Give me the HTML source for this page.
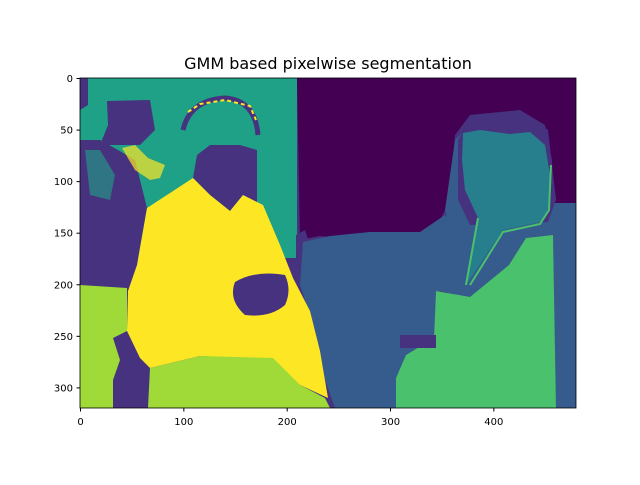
<!DOCTYPE html>
<html><head><meta charset="utf-8"><style>
body{margin:0;background:#fff}
svg text{font-family:"DejaVu Sans","Liberation Sans",sans-serif;fill:#000}
</style></head><body>
<svg width="640" height="480">
<text x="328" y="69" text-anchor="middle" font-size="16">GMM based pixelwise segmentation</text>
<defs><clipPath id="c"><rect x="80" y="78" width="496" height="330"/></clipPath></defs>
<g clip-path="url(#c)">
<rect x="80" y="78" width="496" height="330" fill="#46327e"/>
<rect x="80" y="78" width="217" height="180" fill="#1fa187"/>
<polygon points="80,78 88,78 88,105 80,110" fill="#46327e"/>
<polygon points="80,140 100,140 118,150 135,160 147,208 137,265 128,291 80,288" fill="#46327e"/>
<polygon points="85,150 100,150 115,175 110,200 90,195" fill="#1fa187" opacity="0.6"/>
<polygon points="107,101 150,100 155,130 140,145 115,145 100,145 108,125" fill="#46327e"/>
<polygon points="297,78 576,78 576,203 553,203 552,160 545,125 520,110 470,115 455,135 450,200 440,220 430,236 400,232 370,236 340,238 320,236 300,240" fill="#440154"/>
<polygon points="296,235 305,230 310,245 300,260 296,258" fill="#46327e"/>
<polygon points="303,242 330,236 370,232 420,232 445,215 455,225 470,285 470,300 445,292 436,291 434,338 406,355 396,378 396,408 335,408 325,380 315,330 300,285" fill="#365c8d"/>
<polygon points="455,140 470,125 520,115 548,135 556,200 553,203 576,203 576,408 556,408 553,235 526,238 509,265 470,297 445,292 450,230 445,210" fill="#365c8d"/>
<polygon points="458,140 470,120 520,112 548,130 556,200 548,222 470,225 458,200" fill="#46327e"/>
<polygon points="463,133 480,130 510,134 530,132 545,145 550,175 549,205 545,218 540,222 503,230 466,285 478,218 465,190 462,160" fill="#277f8e"/>
<polyline points="466,285 478,218" fill="none" stroke="#4ac16d" stroke-width="2"/>
<polyline points="470,285 503,232 540,224 549,210 551,165" fill="none" stroke="#4ac16d" stroke-width="2"/>
<path d="M183,130 Q190,100 225,98 Q255,100 258,135" fill="none" stroke="#46327e" stroke-width="5"/>
<polyline points="188,112 200,104 225,100 250,106 256,120" fill="none" stroke="#fde725" stroke-width="2" stroke-dasharray="4 3"/>
<polygon points="197,155 210,145 240,145 257,150 257,205 243,195 230,211 210,195 193,178" fill="#46327e"/>
<polygon points="122,148 135,145 148,158 165,165 160,178 150,180 135,170" fill="#fde725" opacity="0.7"/>
<polygon points="147,208 193,178 210,195 230,211 243,195 263,205 280,245 293,278 310,311 320,351 328,398 300,385 273,360 200,356 150,368 140,358 127,331 128,291 137,265" fill="#fde725"/>
<path d="M235,282 Q255,270 285,275 Q292,290 285,305 Q270,318 245,315 Q228,300 235,282Z" fill="#46327e"/>
<polygon points="80,285 127,288 127,331 113,338 120,360 113,380 113,408 80,408" fill="#a0da39"/>
<polygon points="150,368 200,356 273,358 300,385 325,398 330,408 148,408" fill="#a0da39"/>
<polygon points="436,291 470,297 509,265 526,238 553,235 556,408 396,408 396,378 406,355 434,338" fill="#4ac16d"/>
<rect x="400" y="335" width="36" height="13" fill="#46327e"/>
</g>
<rect x="80" y="78" width="496" height="330" fill="none" stroke="#000" stroke-width="0.8"/>
<g id="ticks"></g>
</svg>
<script>
const xTicks=[0,100,200,300,400];
const yTicks=[0,50,100,150,200,250,300];
const W=480,H=320;
const sx=v=>80+(v+0.5)*496/W, sy=v=>78+(v+0.5)*330/H;
const g=document.getElementById('ticks'),ns='http://www.w3.org/2000/svg';
xTicks.forEach(t=>{const x=sx(t);
const l=document.createElementNS(ns,'line');l.setAttribute('x1',x);l.setAttribute('x2',x);l.setAttribute('y1',408);l.setAttribute('y2',411.5);l.setAttribute('stroke','#000');


g.appendChild(l);
const tx=document.createElementNS(ns,'text');tx.setAttribute('x',x);tx.setAttribute('y',425);tx.setAttribute('text-anchor','middle');tx.setAttribute('font-size','10');tx.textContent=t;


g.appendChild(tx);});
yTicks.forEach(t=>{const y=sy(t);
const l=document.createElementNS(ns,'line');l.setAttribute('x1',76.5);l.setAttribute('x2',80);l.setAttribute('y1',y);l.setAttribute('y2',y);l.setAttribute('stroke','#000');


g.appendChild(l);
const tx=document.createElementNS(ns,'text');tx.setAttribute('x',73);tx.setAttribute('y',y+3.5);tx.setAttribute('text-anchor','end');tx.setAttribute('font-size','10');tx.textContent=t;


g.appendChild(tx);});
</script>
</body></html>
